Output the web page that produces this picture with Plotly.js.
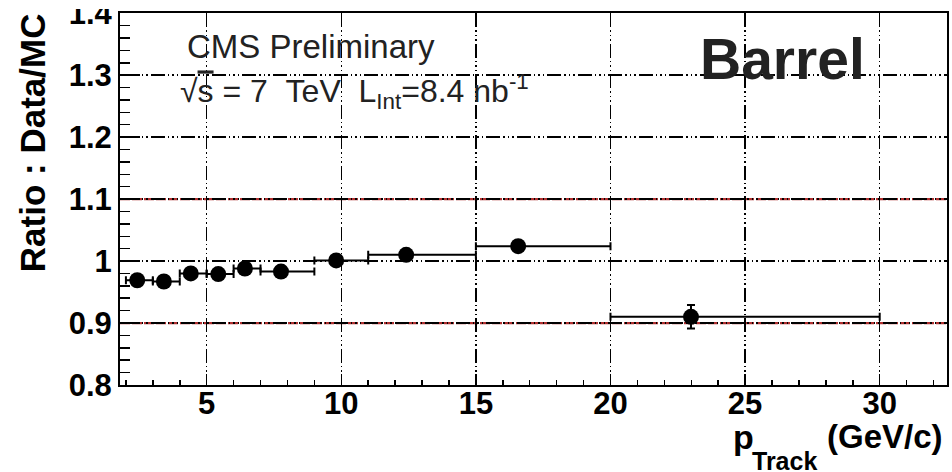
<!DOCTYPE html>
<html>
<head>
<meta charset="utf-8">
<script src="https://cdn.plot.ly/plotly-3.0.1.min.js"></script>
<style>
  html, body { margin: 0; padding: 0; background: #ffffff; }
  #chart { width: 952px; height: 472px; }
</style>
</head>
<body>
<div id="chart"></div>
<script>
// ---- data ----
const pTrack   = [2.42, 3.41, 4.41, 5.43, 6.42, 7.76, 9.81, 12.41, 16.57, 22.99];
const binLow   = [2, 3, 4, 5, 6, 7, 9, 11, 15, 20];
const binHigh  = [3, 4, 5, 6, 7, 9, 11, 15, 20, 30];
const ratio    = [0.969, 0.967, 0.980, 0.979, 0.988, 0.983, 1.001, 1.010, 1.024, 0.910];
const ratioErr = [0.004, 0.004, 0.004, 0.004, 0.004, 0.005, 0.005, 0.005, 0.006, 0.019];
const refLines = [0.9, 1.1];
const xTicks   = [5, 10, 15, 20, 25, 30];
const yTicks   = [0.8, 0.9, 1.0, 1.1, 1.2, 1.3, 1.4];
const yTickText = ['0.8', '0.9', '1', '1.1', '1.2', '1.3', '1.4'];

const errPlus  = pTrack.map((x, i) => binHigh[i] - x);
const errMinus = pTrack.map((x, i) => x - binLow[i]);

const FONT = 'Liberation Sans, Arial, Helvetica, sans-serif';
const GRIDDASH = '14px,3px,1.5px,3px,1.5px,3px,1.5px,3px';

const trace = {
  type: 'scatter',
  mode: 'markers',
  x: pTrack,
  y: ratio,
  marker: { color: 'black', size: 16, symbol: 'circle' },
  error_x: { type: 'data', symmetric: false, array: errPlus, arrayminus: errMinus,
             color: 'black', thickness: 2, width: 4 },
  error_y: { type: 'data', array: ratioErr, color: 'black', thickness: 2, width: 4 },
  showlegend: false,
  hoverinfo: 'x+y'
};

const shapes = [
  // white panes behind the text blocks (hide the grid there)
  { type: 'rect', xref: 'paper', yref: 'paper', x0: 0.0556, x1: 0.502, y0: 0.677, y1: 0.975,
    fillcolor: 'white', line: { width: 0 }, layer: 'between' },
  { type: 'rect', xref: 'paper', yref: 'paper', x0: 0.620, x1: 0.982, y0: 0.7736, y1: 0.975,
    fillcolor: 'white', line: { width: 0 }, layer: 'between' },
  // the reference picture is cropped just above the top label
  { type: 'rect', xref: 'paper', yref: 'paper', x0: -0.085, x1: -0.006, y0: 1.011, y1: 1.04,
    fillcolor: 'white', line: { width: 0 }, layer: 'above' }
];
refLines.forEach(v => {
  shapes.push({
    type: 'line', xref: 'paper', yref: 'y', x0: 0.003, x1: 0.997, y0: v, y1: v,
    line: { color: 'white', width: 3 }, layer: 'between'
  });
  shapes.push({
    type: 'line', xref: 'paper', yref: 'y', x0: 0, x1: 1, y0: v, y1: v,
    line: { color: '#b03030', width: 2.2, dash: '10px,2px' }, layer: 'between'
  });
});

const layout = {
  width: 952, height: 472,
  margin: { l: 120, r: 5, t: 13, b: 87 },
  paper_bgcolor: 'white', plot_bgcolor: 'white',
  font: { family: FONT, color: 'black' },
  xaxis: {
    range: [1.78, 32.5],
    tickvals: xTicks,
    ticks: 'inside', ticklen: 11, tickwidth: 1.5, tickcolor: 'black',
    ticklabelstandoff: -10,
    minor: { dtick: 1, tick0: 0, ticks: 'inside', ticklen: 5, tickwidth: 1.5, tickcolor: 'black', showgrid: false },
    showline: true, linecolor: 'black', linewidth: 2, mirror: true,
    showgrid: true, gridcolor: 'black', gridwidth: 1.5, griddash: GRIDDASH,
    zeroline: false,
    tickfont: { family: FONT, size: 31, color: 'black', weight: 'bold' }
  },
  yaxis: {
    range: [0.8, 1.4003],
    tickvals: yTicks, ticktext: yTickText,
    ticklabeloverflow: 'allow',
    ticks: 'inside', ticklen: 20, tickwidth: 1.5, tickcolor: 'black',
    minor: { dtick: 0.02, tick0: 0.8, ticks: 'inside', ticklen: 10, tickwidth: 1.5, tickcolor: 'black', showgrid: false },
    showline: true, linecolor: 'black', linewidth: 2, mirror: true,
    showgrid: true, gridcolor: 'black', gridwidth: 1.5, griddash: GRIDDASH,
    zeroline: false,
    tickfont: { family: FONT, size: 31, color: 'black', weight: 'bold' }
  },
  shapes: shapes,
  annotations: [
    { xref: 'paper', yref: 'paper', x: -0.1064, y: 0.650, xanchor: 'center', yanchor: 'middle',
      textangle: -90, showarrow: false, text: 'Ratio : Data/MC',
      font: { family: FONT, size: 35, color: 'black', weight: 'bold' } },
    // x-axis title: p, subscript Track, unit
    { xref: 'paper', yref: 'paper', x: 0.7388, y: -0.1397, xanchor: 'left', yanchor: 'middle',
      showarrow: false, text: 'p',
      font: { family: FONT, size: 34, color: 'black', weight: 'bold' } },
    { xref: 'paper', yref: 'paper', x: 0.7618, y: -0.204, xanchor: 'left', yanchor: 'middle',
      showarrow: false, text: 'Track',
      font: { family: FONT, size: 25, color: 'black', weight: 'bold' } },
    { xref: 'paper', yref: 'paper', x: 0.9976, y: -0.1397, xanchor: 'right', yanchor: 'middle',
      showarrow: false, text: '(GeV/c)',
      font: { family: FONT, size: 33, color: 'black', weight: 'bold' } },
    { xref: 'paper', yref: 'paper', x: 0.0786, y: 0.9106, xanchor: 'left', yanchor: 'middle',
      showarrow: false, text: 'CMS Preliminary',
      font: { family: FONT, size: 33, color: '#222222' } },
    { xref: 'paper', yref: 'paper', x: 0.0700, y: 0.79, xanchor: 'left', yanchor: 'middle',
      showarrow: false,
      text: '√<span style="text-decoration:overline">s</span> = 7\u00a0\u00a0TeV\u00a0\u00a0L<sub>Int</sub>=8.4 nb<sup>-1</sup>',
      font: { family: FONT, size: 32, color: '#222222' } },
    { xref: 'paper', yref: 'paper', x: 0.8005, y: 0.877, xanchor: 'center', yanchor: 'middle',
      showarrow: false, text: 'Barrel',
      font: { family: FONT, size: 57, color: '#222222', weight: 'bold' } }
  ]
};

Plotly.newPlot('chart', [trace], layout, { displayModeBar: false, staticPlot: true });
</script>
</body>
</html>
